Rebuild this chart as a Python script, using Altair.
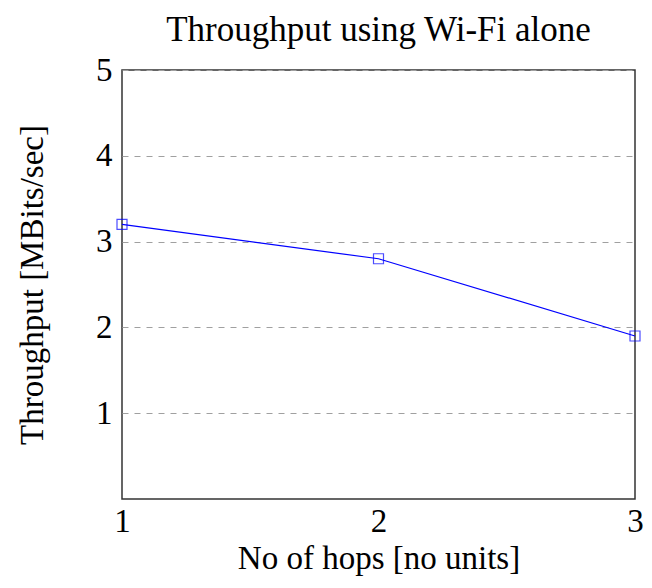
import altair as alt
import pandas as pd

hops = [1, 2, 3]
throughput = [3.2, 2.8, 1.9]
y_ticks = [1, 2, 3, 4, 5]

df = pd.DataFrame({"hops": hops, "throughput": throughput})

FONT = "Liberation Serif"
FS = 35
AFS = 33

base = alt.Chart(df)

xenc = alt.X("hops:O",
             scale=alt.Scale(type="point", padding=0),
             axis=alt.Axis(title="No of hops [no units]", grid=False, labelAngle=0,
                           ticks=False, domain=False, labelPadding=6, titlePadding=4,
                           labelOverlap=False))
yenc = alt.Y("throughput:Q",
             scale=alt.Scale(domain=[0, 5], nice=False),
             axis=alt.Axis(values=y_ticks, title="Throughput [MBits/sec]", grid=True,
                           gridDash=[6, 6], gridColor="#a0a0a0", gridWidth=1,
                           ticks=False, domain=False, labelPadding=10, titlePadding=46,
                           labelOverlap=False, labelFlush=False, format="d"))

line = base.mark_line(color="#0000ff", strokeWidth=1.2).encode(x=xenc, y=yenc)

points = base.mark_point(shape="square", color="#0000ff", filled=False,
                         size=100, strokeWidth=1.2).encode(
    x=alt.X("hops:O"), y=alt.Y("throughput:Q")
)

chart = (line + points).properties(
    width=513,
    height=429,
    title=alt.TitleParams("Throughput using Wi-Fi alone", font=FONT, fontSize=FS,
                          fontWeight="normal", color="black", offset=6),
    autosize=alt.AutoSizeParams(type="none"),
    padding={"left": 114, "top": 62, "right": 9, "bottom": 81},
).configure_axis(
    labelFont=FONT, labelFontSize=AFS, labelColor="black",
    titleFont=FONT, titleFontSize=AFS, titleColor="black", titleFontWeight="normal",
).configure_view(
    stroke="#333333", strokeWidth=1.5,
)

chart.save("out.html", embed_options={"renderer": "svg", "actions": False})
